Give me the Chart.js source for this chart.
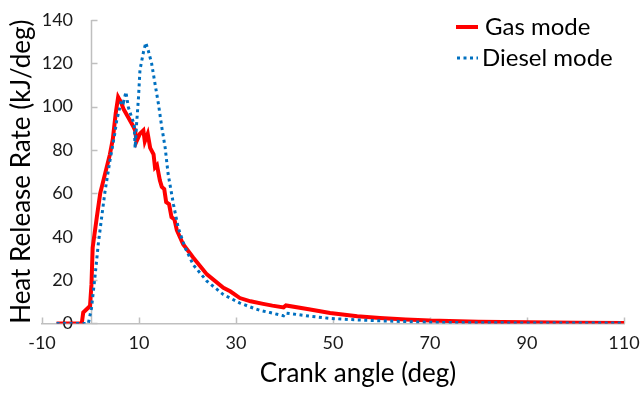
<!DOCTYPE html>
<html>
<head>
<meta charset="utf-8">
<script src="https://cdn.jsdelivr.net/npm/chart.js@4/dist/chart.umd.min.js"></script>
<style>
  html, body { margin: 0; padding: 0; background: #ffffff; }
  #wrap { width: 642px; height: 395px; }
</style>
</head>
<body>
<div id="wrap"><canvas id="c" width="642" height="395"></canvas></div>
<script>
// ---- data ----
const seriesNames = ["Gas mode", "Diesel mode"];
const xAxisTitle = "Crank angle (deg)";
const yAxisTitle = "Heat Release Rate (kJ/deg)";

const gasAngle = [-7, -1.8, -1.5, -0.1, 0.2, 0.45, 1.3, 2.0, 3.0, 4.0, 4.6, 5.2, 5.7, 6.3, 6.8, 7.8, 8.8, 9.2, 9.5, 10.2, 10.9, 11.2, 11.8, 12.3, 13.0, 13.3, 13.7, 14.3, 14.7, 15.2, 15.6, 16.2, 16.7, 17.3, 17.8, 19.1, 21.2, 24, 27.4, 28.8, 30.8, 33, 35.6, 37.5, 39.8, 40.3, 45, 49.4, 55, 59.7, 65, 70, 80, 90, 100, 110];
const gasHRR   = [0, 0, 5, 8, 18, 35, 49, 60, 69, 78, 85, 97, 104.4, 102, 99, 95, 91, 89, 84, 87.5, 89, 84, 87.5, 81, 78, 72, 73, 66, 63, 62, 56, 55, 49, 48, 43, 36.5, 30.3, 22.6, 16.4, 14.8, 11.7, 10.2, 9.0, 8.2, 7.4, 8.3, 6.5, 4.8, 3.3, 2.5, 1.8, 1.3, 0.8, 0.5, 0.3, 0.2];

const dieselAngle = [-7, -0.45, 0.2, 0.9, 1.6, 2.3, 3.0, 4.0, 4.4, 5.0, 5.4, 6.4, 6.8, 7.3, 7.8, 8.5, 9.0, 9.2, 9.5, 9.9, 10.2, 10.9, 11.4, 11.9, 12.6, 13.3, 14.0, 14.7, 15.4, 16.0, 17.1, 18.1, 19.5, 21.2, 24, 27.4, 30.8, 33.5, 35, 37, 39.8, 40.2, 45, 49.4, 55, 59.7, 70, 80, 90, 110];
const dieselHRR   = [0, 0, 7, 21, 36.5, 49, 61, 75, 80, 87.5, 93.6, 103, 102, 106.8, 99.8, 95, 92, 81, 92, 104.4, 117, 125, 129.5, 126, 120, 110.6, 101.4, 90.5, 81, 69, 55, 44, 35, 27, 19.5, 13.3, 9.4, 7.1, 6, 5, 3.5, 4.8, 3.4, 2.3, 1.6, 1.2, 0.5, 0.3, 0.2, 0.2];

const xTickMin = -10, xTickMax = 110, xTickStep = 20;
const yTickMin = 0, yTickMax = 140, yTickStep = 20;
const yAxisCrossesAt = 0;

// ---- build chart ----
function pts(xs, ys) { return xs.map((x, i) => ({ x: x, y: ys[i] })); }

const RED = '#ff0000';
const BLUE = '#0070c0';
const AXIS = '#bfbfbf';
const FONT = 'Lato, "Open Sans", sans-serif';

// vertical axis line crossing at x = 0, plus inward tick marks on both axes
const crossAxisPlugin = {
  id: 'crossAxis',
  beforeDatasetsDraw(chart) {
    const ctx = chart.ctx;
    const xs = chart.scales.x, ys = chart.scales.y;
    const px = Math.round(xs.getPixelForValue(yAxisCrossesAt)) + 0.5;
    const by = Math.round(ys.bottom) + 0.5;
    ctx.save();
    ctx.strokeStyle = AXIS;
    ctx.lineWidth = 1.5;
    ctx.beginPath();
    ctx.moveTo(px, ys.bottom);
    ctx.lineTo(px, ys.top);
    ys.ticks.forEach(t => {
      const py = Math.round(ys.getPixelForValue(t.value)) + 0.5;
      ctx.moveTo(px, py);
      ctx.lineTo(px + 6, py);
    });
    xs.ticks.forEach(t => {
      const tx = Math.round(xs.getPixelForValue(t.value)) + 0.5;
      ctx.moveTo(tx, by);
      ctx.lineTo(tx, by - 6);
    });
    ctx.stroke();
    ctx.restore();
  }
};

const overlayPlugin = {
  id: 'overlay',
  afterDraw(chart) {
    const ctx = chart.ctx;
    const ys = chart.scales.y;
    ctx.save();
    // axis titles
    ctx.fillStyle = '#000';
    ctx.font = '26px ' + FONT;
    ctx.textAlign = 'center';
    ctx.textBaseline = 'middle';
    ctx.fillText(xAxisTitle, 358, 374);
    ctx.save();
    ctx.translate(22, (ys.top + ys.bottom) / 2);
    ctx.rotate(-Math.PI / 2);
    ctx.fillText(yAxisTitle, 0, 0);
    ctx.restore();
    // legend
    ctx.font = '24px ' + FONT;
    ctx.textAlign = 'left';
    ctx.lineWidth = 4;
    ctx.strokeStyle = RED;
    ctx.setLineDash([]);
    ctx.beginPath(); ctx.moveTo(456, 27); ctx.lineTo(478, 27); ctx.stroke();
    ctx.fillText(seriesNames[0], 485, 27);
    ctx.lineWidth = 3;
    ctx.strokeStyle = BLUE;
    ctx.setLineDash([3, 3.5]);
    ctx.beginPath(); ctx.moveTo(457, 58); ctx.lineTo(478, 58); ctx.stroke();
    ctx.setLineDash([]);
    ctx.fillText(seriesNames[1], 482, 58);
    ctx.restore();
  }
};

new Chart(document.getElementById('c'), {
  type: 'scatter',
  data: {
    datasets: [
      {
        label: seriesNames[0],
        data: pts(gasAngle, gasHRR),
        showLine: true,
        borderColor: RED,
        backgroundColor: RED,
        borderWidth: 4,
        pointRadius: 0,
        tension: 0,
        order: 2
      },
      {
        label: seriesNames[1],
        data: pts(dieselAngle, dieselHRR),
        showLine: true,
        borderColor: BLUE,
        backgroundColor: BLUE,
        borderWidth: 3,
        borderDash: [3, 3.5],
        pointRadius: 0,
        tension: 0,
        order: 1
      }
    ]
  },
  options: {
    responsive: false,
    animation: false,
    devicePixelRatio: 1,
    layout: { padding: { left: 42, right: 18, top: 20, bottom: 41 } },
    plugins: { legend: { display: false }, tooltip: { enabled: false } },
    scales: {
      x: {
        type: 'linear',
        min: xTickMin, max: xTickMax,
        ticks: { stepSize: xTickStep, color: '#1a1a1a', font: { family: FONT, size: 18 }, padding: 0, maxRotation: 0 },
        grid: { display: true, drawOnChartArea: false, drawTicks: true, tickLength: 9, tickColor: 'rgba(0,0,0,0)', color: 'rgba(0,0,0,0)' },
        border: { display: true, color: AXIS, width: 1.5 }
      },
      y: {
        type: 'linear',
        position: { x: -3.6 },
        min: yTickMin, max: yTickMax,
        ticks: { stepSize: yTickStep, color: '#1a1a1a', font: { family: FONT, size: 18 } },
        grid: { display: false, drawTicks: false },
        border: { display: false }
      }
    }
  },
  plugins: [crossAxisPlugin, overlayPlugin]
});
</script>
</body>
</html>
